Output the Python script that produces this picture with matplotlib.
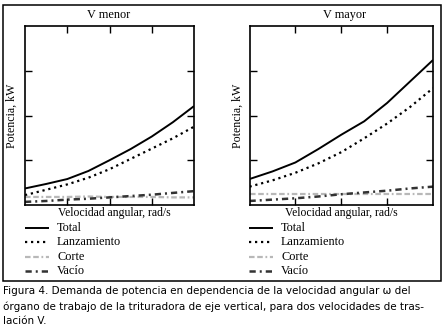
import matplotlib
matplotlib.use("Agg")
import matplotlib.pyplot as plt
from matplotlib.lines import Line2D
from matplotlib.patches import Rectangle

# ---- data (normalised angular speed, power in arbitrary kW units) ----
omega = [0.0, 0.125, 0.25, 0.375, 0.5, 0.625, 0.75, 0.875, 1.0]

menor_total = [0.37, 0.47, 0.58, 0.76, 1.00, 1.25, 1.53, 1.85, 2.21]
menor_lanz = [0.22, 0.34, 0.46, 0.61, 0.80, 1.03, 1.26, 1.49, 1.75]
menor_corte = [0.18, 0.18, 0.18, 0.19, 0.18, 0.18, 0.18, 0.17, 0.17]
menor_vacio = [0.07, 0.09, 0.12, 0.14, 0.17, 0.20, 0.23, 0.27, 0.31]

mayor_total = [0.58, 0.75, 0.95, 1.25, 1.57, 1.87, 2.28, 2.76, 3.24]
mayor_lanz = [0.41, 0.55, 0.72, 0.93, 1.18, 1.49, 1.82, 2.19, 2.61]
mayor_corte = [0.24, 0.24, 0.24, 0.24, 0.24, 0.24, 0.24, 0.24, 0.24]
mayor_vacio = [0.09, 0.12, 0.15, 0.19, 0.24, 0.28, 0.32, 0.37, 0.41]

panel_titles = ["V menor", "V mayor"]
series_labels = ["Total", "Lanzamiento", "Corte", "Vacío"]
xlabel = "Velocidad angular, rad/s"
ylabel = "Potencia, kW"
caption = ("Figura 4. Demanda de potencia en dependencia de la velocidad angular \u03c9 del\n"
           "órgano de trabajo de la trituradora de eje vertical, para dos velocidades de tras-\n"
           "lación V.")

styles = [
    dict(color="black", lw=1.4, ls="-"),
    dict(color="black", lw=1.6, ls=(0, (1, 1.7))),
    dict(color="#b8b8b8", lw=1.6, ls=(0, (2.5, 1.2, 2.5, 1.2, 0.8, 1.2))),
    dict(color="#333333", lw=1.8, ls=(0, (2.5, 1.6, 0.8, 1.6))),
]

W, H = 444, 334
fig = plt.figure(figsize=(W / 100, H / 100), dpi=100)
serif = "Liberation Serif"

def fx(px):
    return px / W

def fy(py):
    return 1 - py / H

# outer box
fig.add_artist(Rectangle((fx(3), fy(281)), fx(441) - fx(3), fy(4.5) - fy(281),
                         transform=fig.transFigure, fill=False, lw=1.1, ec="black"))

panels = [
    dict(x0=25, x1=194, data=[menor_total, menor_lanz, menor_corte, menor_vacio],
         title_x=109, ylab_x=12, xlab_x=114, leg_x=25),
    dict(x0=249.5, x1=433, data=[mayor_total, mayor_lanz, mayor_corte, mayor_vacio],
         title_x=345, ylab_x=238, xlab_x=341, leg_x=249),
]
top, bottom = 26, 205

for p, title in zip(panels, panel_titles):
    ax = fig.add_axes([fx(p["x0"]), fy(bottom), fx(p["x1"]) - fx(p["x0"]), fy(top) - fy(bottom)])
    for ys, st, lab in zip(p["data"], styles, series_labels):
        ax.plot(omega, ys, color=st["color"], lw=st["lw"], linestyle=st["ls"],
                label=lab, solid_capstyle="butt", dash_capstyle="butt")
    ax.set_xlim(0, 1)
    ax.set_ylim(0, 4)
    ax.set_xticks([0.25, 0.5, 0.75])
    ax.set_yticks([1, 2, 3])
    ax.tick_params(direction="in", top=True, right=True, length=5, width=1,
                   labelbottom=False, labelleft=False)
    for s in ax.spines.values():
        s.set_linewidth(1.2)
    fig.text(fx(p["title_x"]), fy(15), title, ha="center", va="center",
             family=serif, fontsize=8.8)
    fig.text(fx(p["ylab_x"]), fy((top + bottom) / 2), ylabel, rotation=90,
             ha="center", va="center", family=serif, fontsize=8.6)
    fig.text(fx(p["xlab_x"]), fy(213), xlabel, ha="center", va="center",
             family=serif, fontsize=8.4)
    # legend
    rows = [228, 242, 256.5, 271]
    for st, lab, ry in zip(styles, series_labels, rows):
        fig.add_artist(Line2D([fx(p["leg_x"]), fx(p["leg_x"] + 24)], [fy(ry), fy(ry)],
                              transform=fig.transFigure, color=st["color"],
                              lw=st["lw"], linestyle=st["ls"],
                              solid_capstyle="butt", dash_capstyle="butt"))
        fig.text(fx(p["leg_x"] + 32), fy(ry), lab, ha="left", va="center",
                 family=serif, fontsize=8.8)

fig.text(fx(3), fy(286.5), caption, ha="left", va="top", family="DejaVu Sans",
         fontsize=7.5, linespacing=1.55)

fig.savefig("out.png", dpi=100, facecolor="white")
